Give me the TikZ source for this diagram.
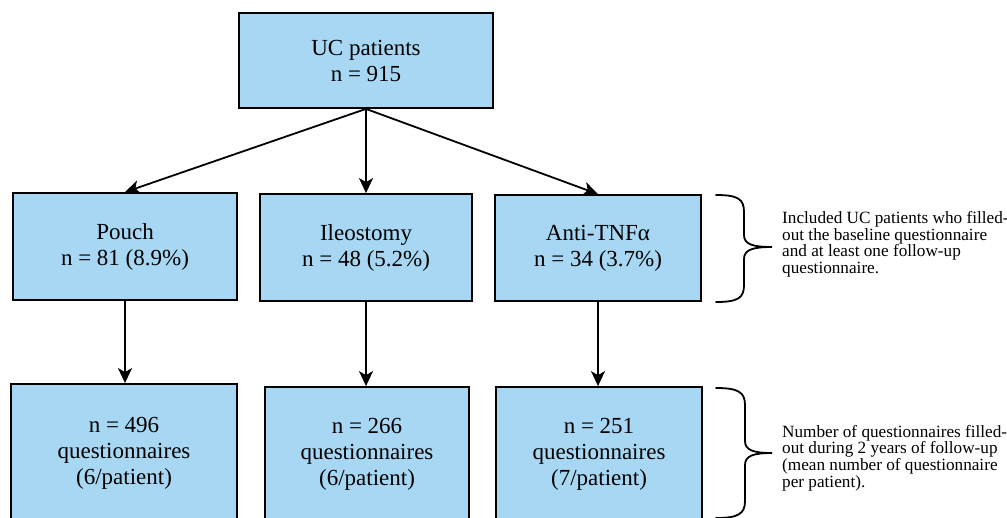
\documentclass[tikz,border=0pt]{standalone}
\usepackage{fontspec}
\setmainfont{Liberation Serif}
\usetikzlibrary{arrows.meta}
\definecolor{boxblue}{RGB}{167,215,243}
\begin{document}
\begin{tikzpicture}[x=1pt,y=-1pt,
  box/.style={draw=black, line width=1.8pt, fill=boxblue, inner sep=0pt, align=center,
              font=\fontsize{23}{26}\selectfont},
  arr/.style={line width=1.8pt, -{Stealth[length=15pt,width=14pt,inset=4pt]}},
  bracepath/.style={line width=1.8pt, line cap=round},
  note/.style={align=left, inner sep=0pt, anchor=west, font=\fontsize{17.2}{16.7}\selectfont}]
\useasboundingbox (0,0) rectangle (1007,517);
\clip (0,0) rectangle (1007,517);
\fill[white] (0,0) rectangle (1007,517);

\node[box, minimum width=254pt, minimum height=95pt] (uc) at (366,60.5) {UC patients\\n = 915};

\node[box, minimum width=224pt, minimum height=107pt] (pouch) at (125,246.5) {Pouch\\n = 81 (8.9\%)};
\node[box, minimum width=212pt, minimum height=107pt] (ileo) at (366,247.5) {Ileostomy\\n = 48 (5.2\%)};
\node[box, minimum width=206pt, minimum height=106pt] (anti) at (598,248) {Anti-TNFα\\n = 34 (3.7\%)};

\node[box, minimum width=226pt, minimum height=138pt] (q1) at (124,453) {n = 496\\questionnaires\\(6/patient)};
\node[box, minimum width=204pt, minimum height=134pt] (q2) at (367,454) {n = 266\\questionnaires\\(6/patient)};
\node[box, minimum width=206pt, minimum height=134pt] (q3) at (599,454) {n = 251\\questionnaires\\(7/patient)};

\draw[arr] (uc.south) -- (pouch.north);
\draw[arr] (uc.south) -- (ileo.north);
\draw[arr] (uc.south) -- (anti.north);
\draw[arr] (pouch.south) -- (pouch.south |- q1.north);
\draw[arr] (ileo.south) -- (ileo.south |- q2.north);
\draw[arr] (anti.south) -- (anti.south |- q3.north);

\draw[bracepath] (716,195) .. controls (738,195) and (744,199) .. (744,212) -- (744,235)
  .. controls (744,244) and (752,247) .. (772,247)
  .. controls (752,247) and (744,250) .. (744,259) -- (744,285)
  .. controls (744,298) and (738,302) .. (716,302);
\draw[bracepath] (716,388) .. controls (738,388) and (745,392) .. (745,405) -- (745,441)
  .. controls (745,450) and (753,453) .. (772,453)
  .. controls (753,453) and (745,456) .. (745,465) -- (745,501)
  .. controls (745,514) and (738,518) .. (716,518);

\node[note] (n1) at (782,244.2) {Included UC patients who filled-\\out the baseline questionnaire\\and at least one follow-up\\questionnaire.};
\node[note] (n2) at (782,458) {Number of questionnaires filled-\\out during 2 years of follow-up\\(mean number of questionnaire\\per patient).};
\end{tikzpicture}
\end{document}
